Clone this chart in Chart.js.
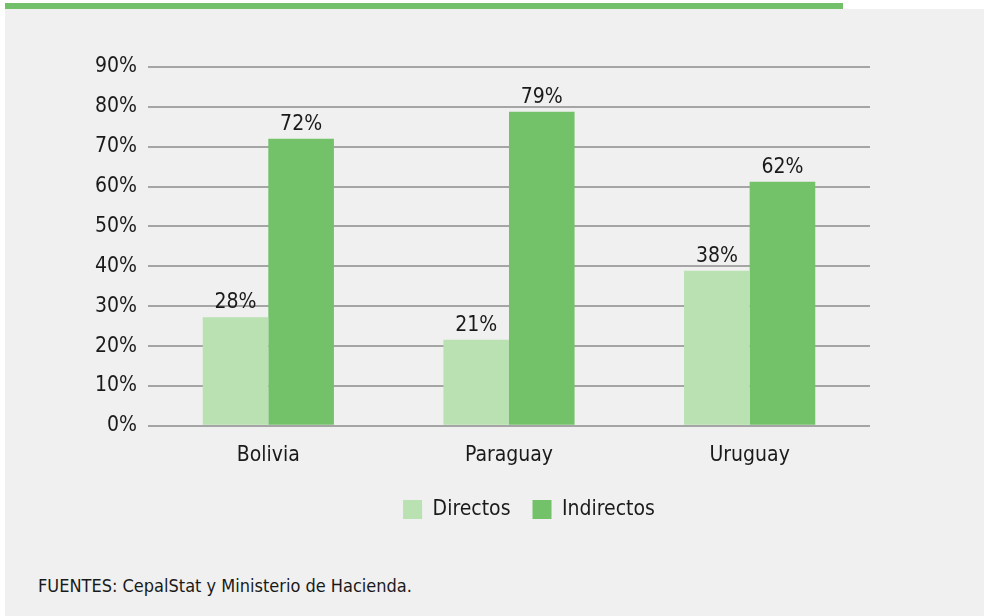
<!DOCTYPE html>
<html>
<head>
<meta charset="utf-8">
<script src="https://cdn.jsdelivr.net/npm/chart.js@4/dist/chart.umd.min.js"></script>
<style>
  html, body { margin: 0; padding: 0; background: #ffffff; }
  body { width: 984px; height: 616px; position: relative; overflow: hidden; }
  #topLine { position: absolute; left: 5px; top: 3px; width: 838px; height: 6px; background: #72c069; }
  #panel { position: absolute; left: 5px; top: 9px; right: 0; bottom: 0; background: #eff0ef; }
  #wrap { position: absolute; left: 0; top: 0; width: 984px; height: 540px; }
  #source { position: absolute; left: 38px; top: 575px; font-family: "DejaVu Sans Condensed", sans-serif; font-size: 18px; color: #1a1a1a; }
</style>
</head>
<body>
<div id="topLine"></div>
<div id="panel"></div>
<div id="wrap"><canvas id="taxChart"></canvas></div>
<div id="source">FUENTES: CepalStat y Ministerio de Hacienda.</div>

<script>
// Chart data
const countries = ['Bolivia', 'Paraguay', 'Uruguay'];
const directos = [27.2, 21.6, 38.9];
const indirectos = [72, 78.8, 61.2];
const directosLabels = ['28%', '21%', '38%'];
const indirectosLabels = ['72%', '79%', '62%'];
const yTicks = [0, 10, 20, 30, 40, 50, 60, 70, 80, 90];

const FONT = '"DejaVu Sans Condensed", sans-serif';
const TEXT_COLOR = '#1a1a1a';

// Value labels above the bars
const barLabels = {
  id: 'barLabels',
  afterDatasetsDraw(chart) {
    const ctx = chart.ctx;
    const texts = [directosLabels, indirectosLabels];
    ctx.save();
    ctx.font = '21px ' + FONT;
    ctx.fillStyle = TEXT_COLOR;
    ctx.textAlign = 'center';
    ctx.textBaseline = 'bottom';
    chart.data.datasets.forEach((ds, i) => {
      chart.getDatasetMeta(i).data.forEach((bar, j) => {
        ctx.fillText(texts[i][j], bar.x, bar.y - 4);
      });
    });
    ctx.restore();
  },
};

// Nudge the legend to sit where the original has it
const legendShift = {
  id: 'legendShift',
  afterLayout(chart) {
    const lg = chart.legend;
    if (!lg) return;
    lg.left += 52;
    lg.right += 52;
  },
};

const chart = new Chart(document.getElementById('taxChart'), {
  type: 'bar',
  data: {
    labels: countries,
    datasets: [
      {
        label: 'Directos',
        data: directos,
        backgroundColor: '#b9e1b1',
        categoryPercentage: 0.545,
        barPercentage: 1,
      },
      {
        label: 'Indirectos',
        data: indirectos,
        backgroundColor: '#73c169',
        categoryPercentage: 0.545,
        barPercentage: 1,
      },
    ],
  },
  options: {
    responsive: true,
    maintainAspectRatio: false,
    animation: false,
    layout: {
      padding: { left: 84, right: 114, top: 67, bottom: 10 },
    },
    scales: {
      x: {
        grid: { display: false },
        border: { display: false },
        ticks: {
          color: TEXT_COLOR,
          font: { family: FONT, size: 21 },
          padding: 9,
        },
      },
      y: {
        min: 0,
        max: 90,
        afterBuildTicks(axis) {
          axis.ticks = yTicks.map((v) => ({ value: v }));
        },
        grid: { color: '#a5a5a5', lineWidth: 2, drawTicks: false },
        border: { display: false },
        ticks: {
          color: TEXT_COLOR,
          font: { family: FONT, size: 21 },
          padding: 11,
          callback: (v) => v + '%',
        },
      },
    },
    plugins: {
      legend: {
        position: 'bottom',
        labels: {
          color: TEXT_COLOR,
          font: { family: FONT, size: 21 },
          boxWidth: 19,
          boxHeight: 19,
          padding: 22,
        },
      },
      tooltip: { enabled: false },
    },
  },
  plugins: [barLabels, legendShift],
});
</script>
</body>
</html>
